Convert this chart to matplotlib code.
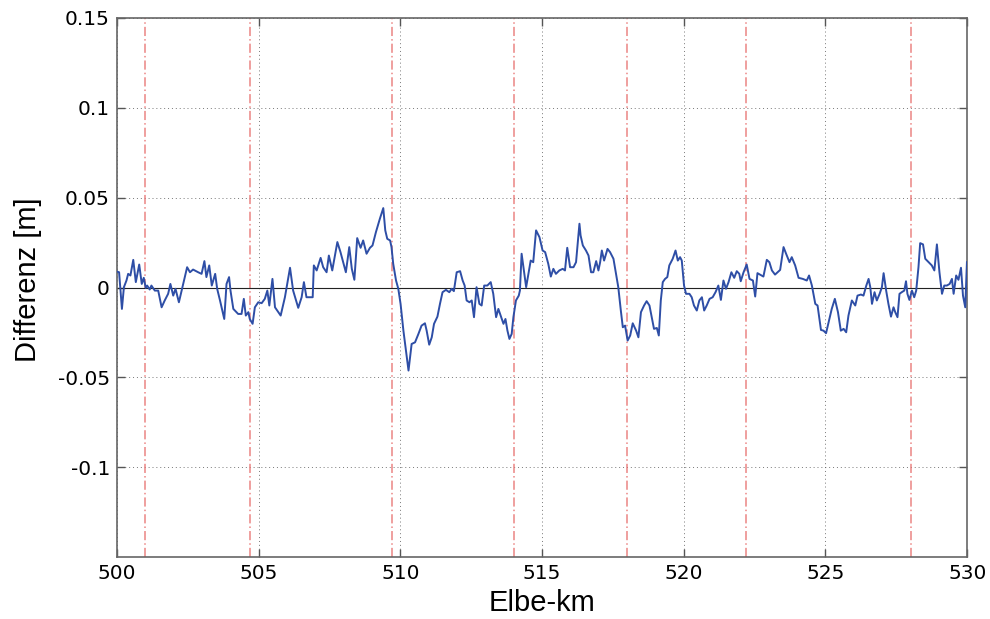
import matplotlib
matplotlib.use("Agg")
import matplotlib.pyplot as plt
import numpy as np

# Elbe-km positions of the difference profile
km = [
    500.00, 500.08, 500.18, 500.25, 500.34, 500.40, 500.48, 500.58, 500.67, 500.79,
    500.88, 500.95, 501.02, 501.07, 501.16, 501.22, 501.34, 501.46, 501.58, 501.69,
    501.81, 501.89, 501.99, 502.07, 502.19, 502.34, 502.48, 502.58, 502.69, 502.87,
    502.99, 503.09, 503.16, 503.26, 503.35, 503.47, 503.54, 503.64, 503.79, 503.87,
    503.96, 504.01, 504.11, 504.28, 504.40, 504.48, 504.55, 504.64, 504.69, 504.79,
    504.87, 504.99, 505.11, 505.22, 505.31, 505.38, 505.49, 505.58, 505.78, 505.93,
    506.11, 506.22, 506.40, 506.52, 506.60, 506.69, 506.79, 506.91, 506.95, 507.05,
    507.19, 507.28, 507.40, 507.48, 507.60, 507.78, 507.89, 508.08, 508.20, 508.29,
    508.38, 508.48, 508.60, 508.69, 508.81, 508.93, 509.02, 509.14, 509.28, 509.40,
    509.47, 509.54, 509.64, 509.69, 509.75, 509.85, 509.93, 510.01, 510.11, 510.20,
    510.29, 510.40, 510.52, 510.64, 510.75, 510.87, 510.93, 511.02, 511.11, 511.19,
    511.31, 511.40, 511.49, 511.61, 511.73, 511.81, 511.89, 511.99, 512.11, 512.20,
    512.27, 512.34, 512.44, 512.52, 512.60, 512.69, 512.79, 512.87, 512.96, 513.07,
    513.19, 513.28, 513.38, 513.46, 513.54, 513.64, 513.71, 513.78, 513.85, 513.93,
    513.99, 514.08, 514.18, 514.22, 514.28, 514.36, 514.44, 514.52, 514.60, 514.69,
    514.79, 514.91, 515.02, 515.11, 515.22, 515.31, 515.40, 515.49, 515.61, 515.73,
    515.81, 515.89, 515.99, 516.11, 516.20, 516.32, 516.36, 516.44, 516.55, 516.64,
    516.73, 516.81, 516.91, 516.99, 517.05, 517.11, 517.19, 517.31, 517.40, 517.52,
    517.61, 517.69, 517.78, 517.85, 517.93, 518.02, 518.11, 518.20, 518.32, 518.40,
    518.49, 518.60, 518.69, 518.79, 518.87, 518.95, 519.05, 519.12, 519.19, 519.26,
    519.34, 519.42, 519.49, 519.61, 519.71, 519.79, 519.87, 519.93, 520.01, 520.08,
    520.20, 520.28, 520.36, 520.46, 520.55, 520.64, 520.72, 520.81, 520.91, 521.02,
    521.12, 521.22, 521.31, 521.40, 521.49, 521.58, 521.68, 521.78, 521.87, 521.96,
    522.01, 522.11, 522.22, 522.32, 522.44, 522.52, 522.60, 522.69, 522.81, 522.93,
    523.02, 523.11, 523.22, 523.31, 523.40, 523.52, 523.61, 523.73, 523.81, 523.93,
    524.05, 524.20, 524.34, 524.42, 524.52, 524.64, 524.72, 524.84, 524.93, 525.02,
    525.11, 525.22, 525.33, 525.44, 525.54, 525.64, 525.73, 525.81, 525.93, 526.05,
    526.13, 526.25, 526.34, 526.44, 526.52, 526.58, 526.64, 526.73, 526.81, 526.91,
    526.99, 527.05, 527.14, 527.22, 527.31, 527.40, 527.46, 527.54, 527.61, 527.69,
    527.78, 527.84, 527.89, 527.96, 528.05, 528.13, 528.20, 528.28, 528.34, 528.44,
    528.52, 528.64, 528.75, 528.84, 528.93, 529.02, 529.11, 529.19, 529.28, 529.38,
    529.46, 529.52, 529.61, 529.69, 529.78, 529.85, 529.93, 529.99,
]

# difference in metres
diff = [
    0.0089, 0.0085, -0.0119, 0.0002, 0.0039, 0.0076, 0.0067, 0.0154, 0.0030, 0.0128,
    0.0020, 0.0054, -0.0002, 0.0011, -0.0011, 0.0011, -0.0017, -0.0017, -0.0110, -0.0072,
    -0.0035, 0.0020, -0.0045, -0.0007, -0.0082, 0.0020, 0.0113, 0.0085, 0.0100, 0.0085,
    0.0076, 0.0147, 0.0058, 0.0123, 0.0011, 0.0076, -0.0007, -0.0072, -0.0175, 0.0020,
    0.0058, -0.0017, -0.0119, -0.0147, -0.0147, -0.0063, -0.0156, -0.0137, -0.0175, -0.0202,
    -0.0110, -0.0082, -0.0087, -0.0063, -0.0017, -0.0100, 0.0048, -0.0110, -0.0156, -0.0054,
    0.0110, -0.0017, -0.0113, -0.0054, 0.0030, -0.0054, -0.0054, -0.0054, 0.0123, 0.0095,
    0.0165, 0.0113, 0.0085, 0.0178, 0.0095, 0.0253, 0.0197, 0.0085, 0.0225, 0.0104,
    0.0043, 0.0275, 0.0221, 0.0262, 0.0188, 0.0221, 0.0234, 0.0308, 0.0383, 0.0442,
    0.0318, 0.0271, 0.0262, 0.0225, 0.0132, 0.0039, -0.0007, -0.0091, -0.0240, -0.0351,
    -0.0462, -0.0314, -0.0305, -0.0258, -0.0212, -0.0199, -0.0240, -0.0318, -0.0277, -0.0202,
    -0.0162, -0.0091, -0.0026, -0.0013, -0.0026, -0.0007, -0.0020, 0.0085, 0.0091, 0.0039,
    0.0011, -0.0072, -0.0082, -0.0072, -0.0165, 0.0002, -0.0091, -0.0100, 0.0011, 0.0011,
    0.0030, -0.0035, -0.0165, -0.0119, -0.0156, -0.0202, -0.0175, -0.0240, -0.0286, -0.0258,
    -0.0165, -0.0072, -0.0045, -0.0017, 0.0188, 0.0095, 0.0002, 0.0076, 0.0150, 0.0141,
    0.0318, 0.0280, 0.0206, 0.0197, 0.0132, 0.0061, 0.0104, 0.0076, 0.0095, 0.0104,
    0.0095, 0.0221, 0.0113, 0.0113, 0.0141, 0.0355, 0.0290, 0.0234, 0.0206, 0.0178,
    0.0085, 0.0085, 0.0147, 0.0095, 0.0141, 0.0206, 0.0150, 0.0215, 0.0197, 0.0160,
    0.0076, 0.0002, -0.0128, -0.0221, -0.0212, -0.0295, -0.0267, -0.0199, -0.0240, -0.0277,
    -0.0137, -0.0100, -0.0076, -0.0100, -0.0165, -0.0230, -0.0225, -0.0267, -0.0072, 0.0030,
    0.0048, 0.0058, 0.0123, 0.0160, 0.0206, 0.0150, 0.0169, 0.0150, 0.0011, -0.0035,
    -0.0035, -0.0054, -0.0100, -0.0128, -0.0072, -0.0054, -0.0128, -0.0100, -0.0063, -0.0054,
    -0.0026, 0.0011, -0.0069, 0.0039, -0.0007, 0.0030, 0.0085, 0.0054, 0.0091, 0.0076,
    0.0035, 0.0085, 0.0128, 0.0048, 0.0039, -0.0050, 0.0080, 0.0072, 0.0061, 0.0154,
    0.0141, 0.0095, 0.0072, 0.0085, 0.0098, 0.0225, 0.0188, 0.0141, 0.0169, 0.0123,
    0.0054, 0.0048, 0.0039, 0.0067, 0.0011, -0.0091, -0.0100, -0.0236, -0.0240, -0.0254,
    -0.0193, -0.0119, -0.0063, -0.0137, -0.0240, -0.0230, -0.0249, -0.0156, -0.0072, -0.0100,
    -0.0045, -0.0039, -0.0045, 0.0011, 0.0048, 0.0002, -0.0091, -0.0026, -0.0072, -0.0035,
    0.0002, 0.0080, -0.0017, -0.0091, -0.0162, -0.0110, -0.0137, -0.0165, -0.0035, -0.0026,
    -0.0017, 0.0035, -0.0035, -0.0069, -0.0017, -0.0054, -0.0017, 0.0113, 0.0247, 0.0240,
    0.0160, 0.0141, 0.0123, 0.0095, 0.0240, 0.0085, -0.0035, 0.0011, 0.0011, 0.0020,
    0.0048, -0.0035, 0.0067, 0.0043, 0.0110, -0.0045, -0.0110, 0.0141,
]

# marked cross sections (dash-dot lines)
marks = [501.0, 504.7, 509.7, 514.0, 518.0, 522.2, 528.0]

xticks = [500, 505, 510, 515, 520, 525, 530]
yticks = [-0.1, -0.05, 0, 0.05, 0.1, 0.15]
ytick_labels = ['-0.1', '-0.05', '0', '0.05', '0.1', '0.15']

fig = plt.figure(figsize=(9.9, 6.19), dpi=100)
ax = fig.add_axes([0.118, 0.100, 0.859, 0.871])

ax.grid(True, linestyle=(0, (1, 3)), color='#555555', linewidth=0.7, alpha=0.8)
ax.set_axisbelow(True)

for m in marks:
    ax.axvline(m, color='#e8706f', linewidth=1.1, alpha=0.85,
               linestyle=(0, (6, 2, 1, 2)), zorder=2)

ax.axhline(0, color='#222222', linewidth=0.8, zorder=2)
ax.plot(km, diff, color='#2e4ea6', linewidth=1.4, zorder=3)

ax.set_xlim(500, 530)
ax.set_ylim(-0.15, 0.15)
ax.set_xticks(xticks)
ax.set_yticks(yticks)
ax.set_yticklabels(ytick_labels)

ax.tick_params(direction='in', length=6, width=1, colors='#555555',
               labelcolor='black', labelsize=14.5, top=True, right=True, pad=5)
for s in ax.spines.values():
    s.set_color('#666666')
    s.set_linewidth(1.2)

ax.set_xlabel('Elbe-km', fontsize=21, family='Liberation Sans', labelpad=4)
ax.set_ylabel('Differenz [m]', fontsize=21, family='Liberation Sans', labelpad=13)
ax.yaxis.set_label_coords(-0.088, 0.515)

fig.savefig('out.png', dpi=100)
